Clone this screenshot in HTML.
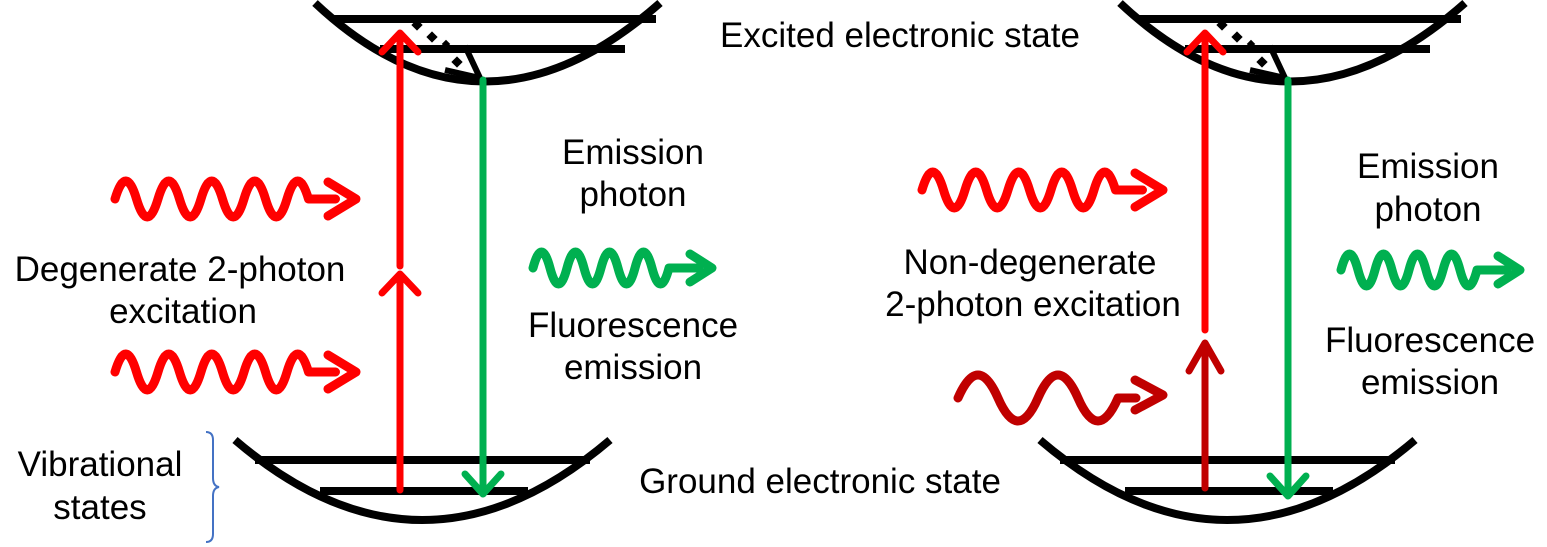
<!DOCTYPE html>
<html><head><meta charset="utf-8"><style>
html,body{margin:0;padding:0;background:#fff;}
svg{display:block;}
text{font-family:"Liberation Sans",Arial,sans-serif;font-size:35px;fill:#000;}
</style></head><body>
<svg width="1547" height="547" viewBox="0 0 1547 547" xmlns="http://www.w3.org/2000/svg">
<defs>
<g id="topwell">
  <path d="M315,3 Q482,160 660,3" fill="none" stroke="#000" stroke-width="8"/>
  <line x1="333" y1="19" x2="656" y2="19" stroke="#000" stroke-width="8"/>
  <line x1="380" y1="49" x2="625" y2="49" stroke="#000" stroke-width="8"/>
  <g fill="#000">
    <rect x="413" y="21" width="8" height="8" transform="rotate(45 417 25)"/>
    <rect x="428" y="33" width="8" height="8" transform="rotate(45 432 37)"/>
    <rect x="443" y="41" width="6" height="6" transform="rotate(45 446 44)"/>
    <rect x="453" y="58" width="8" height="8" transform="rotate(45 457 62)"/>
  </g>
  <path d="M465,46 L480,78 L445,70" fill="none" stroke="#000" stroke-width="6"/>
</g>
<g id="botwell">
  <path d="M235,440 Q422,600 610,440" fill="none" stroke="#000" stroke-width="8"/>
  <line x1="255" y1="460" x2="590" y2="460" stroke="#000" stroke-width="8"/>
  <line x1="320" y1="491" x2="528" y2="491" stroke="#000" stroke-width="8"/>
</g>
</defs>

<use href="#topwell"/>
<use href="#botwell"/>
<g stroke="#ff0000" stroke-width="7" fill="none" stroke-linecap="round" stroke-linejoin="round">
  <line x1="400" y1="490" x2="400" y2="276"/>
  <path d="M382,293 L400,274 L418,293"/>
  <line x1="400" y1="266" x2="400" y2="34"/>
  <path d="M382,52 L400,33 L418,52"/>
</g>
<g stroke="#ff0000" stroke-width="9" fill="none" stroke-linecap="round" stroke-linejoin="round">
  <path d="M115,199 q10.75,-36 21.5,0 t21.5,0 t21.5,0 t21.5,0 t21.5,0 t21.5,0 t21.5,0 t21.5,0 t21.5,0 l27,0"/>
  <path d="M328,182 L356,199 L328,216"/>
  <path d="M115,372 q10.75,-36 21.5,0 t21.5,0 t21.5,0 t21.5,0 t21.5,0 t21.5,0 t21.5,0 t21.5,0 t21.5,0 l27,0"/>
  <path d="M328,355 L356,372 L328,389"/>
</g>
<g stroke="#00b050" stroke-width="7" fill="none" stroke-linecap="round" stroke-linejoin="round">
  <line x1="483" y1="80" x2="483" y2="493"/>
  <path d="M465,474 L483,494 L501,474"/>
</g>
<g stroke="#00b050" stroke-width="9" fill="none" stroke-linecap="round" stroke-linejoin="round">
  <path d="M533,268 q8.5,-32 17,0 t17,0 t17,0 t17,0 t17,0 t17,0 t17,0 t17,0 l30,0"/>
  <path d="M690,254 L712,268 L690,282"/>
</g>

<g transform="translate(805,0)">
  <use href="#topwell"/>
  <use href="#botwell"/>
</g>
<g stroke="#ff0000" stroke-width="7" fill="none" stroke-linecap="round" stroke-linejoin="round">
  <line x1="1205" y1="330" x2="1205" y2="34"/>
  <path d="M1187,52 L1205,33 L1223,52"/>
</g>
<g stroke="#ff0000" stroke-width="9" fill="none" stroke-linecap="round" stroke-linejoin="round">
  <path d="M922,190 q10.75,-36 21.5,0 t21.5,0 t21.5,0 t21.5,0 t21.5,0 t21.5,0 t21.5,0 t21.5,0 t21.5,0 l27,0"/>
  <path d="M1135,173 L1163,190 L1135,207"/>
</g>
<g stroke="#c00000" stroke-width="7" fill="none" stroke-linecap="round" stroke-linejoin="round">
  <line x1="1205" y1="488" x2="1205" y2="344"/>
  <path d="M1189,371 L1205,343 L1221,371"/>
</g>
<g stroke="#c00000" stroke-width="9" fill="none" stroke-linecap="round" stroke-linejoin="round">
  <path d="M958,398 q20,-46 40,0 t40,0 t40,0 t40,0 l18,0"/>
  <path d="M1135,380 L1163,395 L1135,410"/>
</g>
<g stroke="#00b050" stroke-width="7" fill="none" stroke-linecap="round" stroke-linejoin="round">
  <line x1="1288" y1="80" x2="1288" y2="495"/>
  <path d="M1270,476 L1288,496 L1306,476"/>
</g>
<g stroke="#00b050" stroke-width="9" fill="none" stroke-linecap="round" stroke-linejoin="round">
  <path d="M1341,270 q8.5,-32 17,0 t17,0 t17,0 t17,0 t17,0 t17,0 t17,0 t17,0 l30,0"/>
  <path d="M1498,256 L1520,270 L1498,284"/>
</g>

<path d="M206,432 q7,0 7,8 v38 q0,8 6,9 q-6,1 -6,9 v38 q0,8 -7,8" fill="none" stroke="#4472c4" stroke-width="2"/>

<text x="900" y="47" text-anchor="middle">Excited electronic state</text>
<text x="633" y="164" text-anchor="middle">Emission</text>
<text x="633" y="206" text-anchor="middle">photon</text>
<text x="180" y="281" text-anchor="middle">Degenerate 2-photon</text>
<text x="183" y="323" text-anchor="middle">excitation</text>
<text x="633" y="337" text-anchor="middle">Fluorescence</text>
<text x="633" y="379" text-anchor="middle">emission</text>
<text x="100" y="476" text-anchor="middle">Vibrational</text>
<text x="100" y="519" text-anchor="middle">states</text>
<text x="820" y="493" text-anchor="middle">Ground electronic state</text>
<text x="1030" y="274" text-anchor="middle">Non-degenerate</text>
<text x="1033" y="316" text-anchor="middle">2-photon excitation</text>
<text x="1428" y="178" text-anchor="middle">Emission</text>
<text x="1428" y="221" text-anchor="middle">photon</text>
<text x="1430" y="352" text-anchor="middle">Fluorescence</text>
<text x="1430" y="394" text-anchor="middle">emission</text>
</svg>
</body></html>
